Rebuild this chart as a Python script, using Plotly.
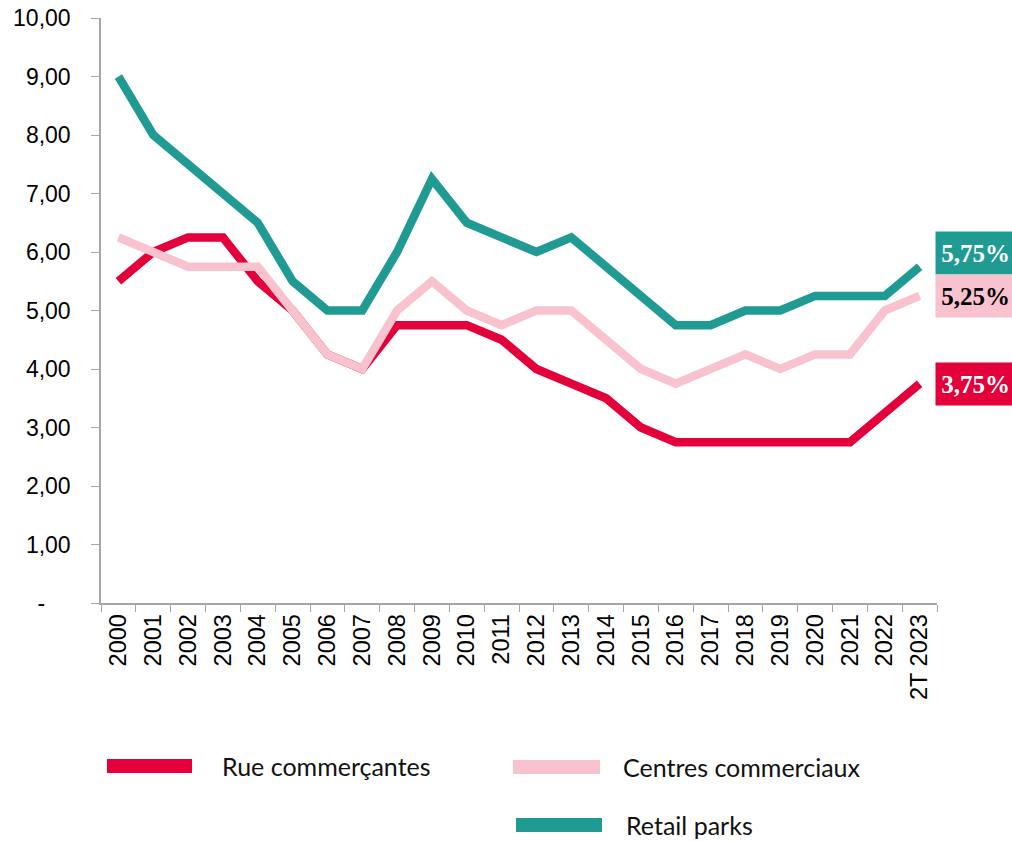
import plotly.graph_objects as go

# données : taux de rendement prime commerces (%)
annees = [str(a) for a in range(2000, 2023)] + ["2T 2023"]
rue = [5.5, 6.0, 6.25, 6.25, 5.5, 5.0, 4.25, 4.0, 4.75, 4.75, 4.75, 4.5,
       4.0, 3.75, 3.5, 3.0, 2.75, 2.75, 2.75, 2.75, 2.75, 2.75, 3.25, 3.75]
centres = [6.25, 6.0, 5.75, 5.75, 5.75, 5.0, 4.25, 4.0, 5.0, 5.5, 5.0, 4.75,
           5.0, 5.0, 4.5, 4.0, 3.75, 4.0, 4.25, 4.0, 4.25, 4.25, 5.0, 5.25]
retail = [9.0, 8.0, 7.5, 7.0, 6.5, 5.5, 5.0, 5.0, 6.0, 7.25, 6.5, 6.25,
          6.0, 6.25, 5.75, 5.25, 4.75, 4.75, 5.0, 5.0, 5.25, 5.25, 5.25, 5.75]
series = ["Rue commerçantes", "Centres commerciaux", "Retail parks"]
couleurs = ["#E4003A", "#F8C3CF", "#1F9B94"]
y_ticks = list(range(0, 11))
y_labels = ["-\u00a0\u00a0\u00a0\u00a0"] + ["{},00".format(v) for v in range(1, 11)]

W, H = 1012, 842
L, R, T, B = 101, 75, 18, 239


def px_x(px):
    return (px - L) / (W - L - R)


def px_y(py):
    return (H - B - py) / (H - T - B)


fig = go.Figure()
for nom, vals, c in zip(series, [rue, centres, retail], couleurs):
    fig.add_trace(go.Scatter(x=annees, y=vals, mode="lines", name=nom,
                             line=dict(color=c, width=8.5), showlegend=False))

# étiquettes de fin de série
fin = [(retail[-1], couleurs[2], "white", 14),
       (centres[-1], couleurs[1], "black", 0),
       (rue[-1], couleurs[0], "white", 0)]
for v, bg, fc, ys in fin:
    fig.add_annotation(x=1, xref="paper", xanchor="left", xshift=-2,
                       y=v, yref="y", yshift=ys,
                       text="<b>{}%</b>".format(("%.2f" % v).replace(".", ",")),
                       showarrow=False, bgcolor=bg, width=71, height=36,
                       align="right", borderpad=3,
                       font=dict(family="Liberation Serif", size=25, color=fc))

# légende manuelle
leg = [(107, 192, 766, 220, series[0], couleurs[0]),
       (513, 600, 767, 621, series[1], couleurs[1]),
       (516, 602, 825, 624, series[2], couleurs[2])]
for x0, x1, yc, xt, nom, c in leg:
    fig.add_shape(type="rect", xref="paper", yref="paper",
                  x0=px_x(x0), x1=px_x(x1), y0=px_y(yc + 7), y1=px_y(yc - 7),
                  fillcolor=c, line=dict(width=0))
    fig.add_annotation(x=px_x(xt), y=px_y(yc), xref="paper", yref="paper",
                       xanchor="left", yanchor="middle", text=nom, showarrow=False,
                       font=dict(family="Lato", size=25, color="#111111"))

fig.update_layout(
    width=W, height=H,
    margin=dict(l=L, r=R, t=T, b=B),
    plot_bgcolor="white", paper_bgcolor="white",
    font=dict(family="Liberation Sans", color="black"),
)
fig.update_xaxes(type="category", range=[-0.5, len(annees) - 0.5],
                 tickangle=-90, tickson="boundaries",
                 ticks="outside", ticklen=7, tickcolor="#a6a6a6",
                 showline=True, linecolor="#a6a6a6", linewidth=1.5,
                 showgrid=False, tickfont=dict(size=23.5), automargin=False)
fig.update_yaxes(range=[0, 10], tickvals=y_ticks, ticktext=y_labels,
                 ticks="outside", ticklen=8, tickcolor="#a6a6a6",
                 showline=True, linecolor="#a6a6a6", linewidth=1.5,
                 showgrid=False, zeroline=False, ticklabelstandoff=16,
                 tickfont=dict(size=23), automargin=False)

fig.write_html("out.html", config={"displayModeBar": False},
               post_script="document.body.style.margin='0';")
